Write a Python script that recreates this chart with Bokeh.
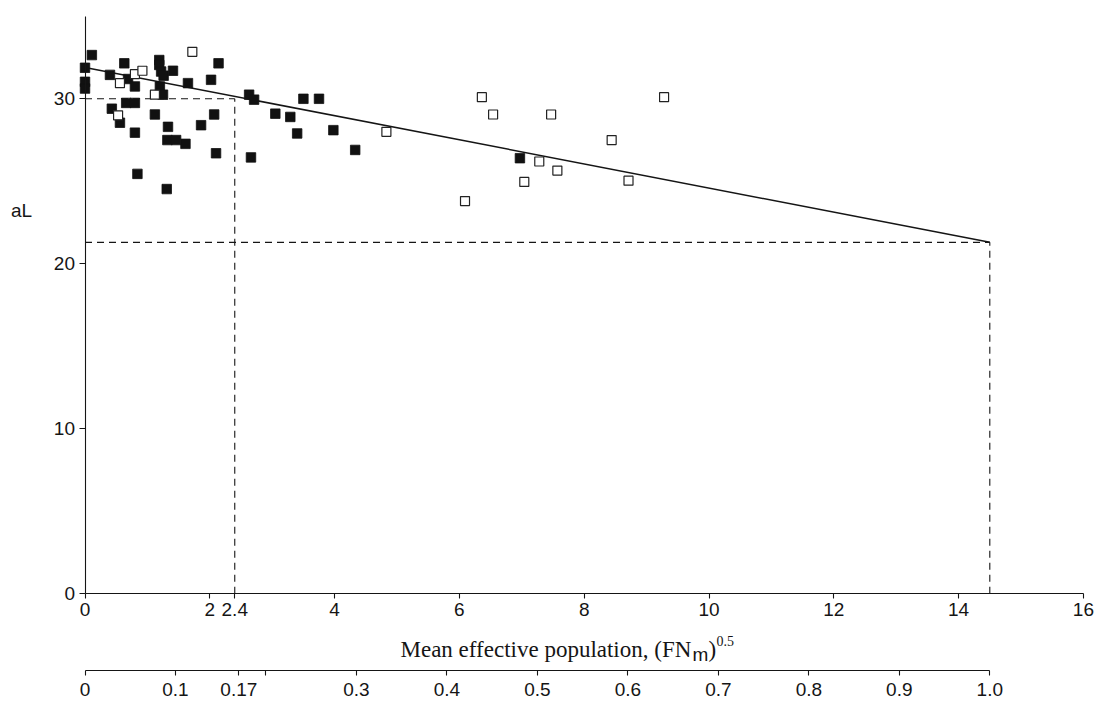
from bokeh.plotting import figure
from bokeh.models import LinearAxis, Range1d, FixedTicker, Label
from bokeh.embed import file_html
from bokeh.resources import INLINE

# ---------------- data ----------------
filled_x = [0.00, 0.00, 0.00, 0.11, 0.40, 0.63, 0.69, 0.80, 1.19, 1.19,
            1.22, 1.26, 1.41, 1.65, 2.02, 2.14, 1.20, 1.25, 2.63, 2.71,
            0.43, 0.56, 0.66, 0.80, 0.80, 1.12, 1.33, 1.32, 1.46, 1.61,
            1.86, 2.07, 2.10, 2.66, 0.84, 1.31, 3.05, 3.29, 3.40, 3.50,
            3.75, 3.98, 4.33, 6.97]
filled_y = [31.88, 31.03, 30.62, 32.65, 31.45, 32.15, 31.20, 30.75, 32.35, 32.05,
            31.65, 31.40, 31.70, 30.95, 31.15, 32.15, 30.75, 30.25, 30.25, 29.95,
            29.40, 28.55, 29.75, 29.75, 27.95, 29.05, 28.30, 27.50, 27.50, 27.27,
            28.40, 29.05, 26.70, 26.45, 25.45, 24.53, 29.10, 28.90, 27.90, 30.00,
            30.00, 28.10, 26.90, 26.40]

open_x = [0.56, 0.80, 0.92, 1.72, 1.12, 0.53, 4.83, 6.36, 6.54, 7.47,
          9.28, 8.44, 7.28, 7.57, 7.04, 8.71, 6.09]
open_y = [30.95, 31.50, 31.70, 32.85, 30.25, 29.00, 28.00, 30.10, 29.05, 29.05,
          30.10, 27.50, 26.20, 25.65, 24.96, 25.04, 23.80]

fit_x = [0.0, 14.5]
fit_y = [31.9, 21.3]

ref_x = 2.4      # (FNm)^0.5 where aL = 30
ref_y = 30.0
end_x = 14.5     # end of regression line
end_y = 21.3

x_ticks = [0, 2, 2.4, 4, 6, 8, 10, 12, 14, 16]
x_tick_labels = ["0", "2", "2.4", "4", "6", "8", "10", "12", "14", "16"]
y_ticks = [0, 10, 20, 30]
y_tick_labels = ["0", "10", "20", "30"]
frac_ticks = [0, 0.1, 0.17, 0.2, 0.3, 0.4, 0.5, 0.6, 0.7, 0.8, 0.9, 1.0]
frac_tick_labels = ["0", "0.1", "0.17", "", "0.3", "0.4", "0.5", "0.6", "0.7", "0.8", "0.9", "1.0"]
frac_full = 14.5   # x value that corresponds to 1.0 on the lower scale

x_axis_max = 16
y_axis_max = 35.0

y_title = "aL"
x_title_main = "Mean effective population, (FN"
x_title_sub = "m"
x_title_close = ")"
x_title_sup = "0.5"

# ---------------- layout (canvas px) ----------------
W, H = 1094, 705
X0, SX = 84.5, 62.4     # canvas px of x=0, px per unit
Y0, SY = 593.3, 16.5    # canvas px (from top) of y=0, px per unit

xs, xe = -X0 / SX, (W - X0) / SX
ys, ye = (Y0 - H) / SY, Y0 / SY

p = figure(width=W, height=H, output_backend="svg", toolbar_location=None,
           x_range=Range1d(xs, xe), y_range=Range1d(ys, ye),
           x_axis_location=None, y_axis_location=None,
           min_border=0, min_border_left=0, min_border_right=0,
           min_border_top=0, min_border_bottom=0)
p.outline_line_color = None
p.grid.grid_line_color = None
p.background_fill_color = "white"
p.border_fill_color = "white"
p.extra_x_ranges = {"frac": Range1d(xs / frac_full, xe / frac_full)}

INK = "#151515"
TICK_FONT = "Liberation Sans"
TICK_SIZE = "19px"


def style(ax, tick_out, standoff):
    ax.axis_line_color = INK
    ax.axis_line_width = 1.1
    ax.major_tick_line_color = INK
    ax.major_tick_line_width = 1.1
    ax.major_tick_in = 0
    ax.major_tick_out = tick_out
    ax.minor_tick_line_color = None
    ax.major_label_text_font = TICK_FONT
    ax.major_label_text_font_size = TICK_SIZE
    ax.major_label_text_color = INK
    ax.major_label_standoff = standoff


yax = LinearAxis(fixed_location=0, bounds=(0, y_axis_max),
                 ticker=FixedTicker(ticks=y_ticks),
                 major_label_overrides={t: s for t, s in zip(y_ticks, y_tick_labels)})
style(yax, 6, 4)
p.add_layout(yax, "left")

xax = LinearAxis(fixed_location=0, bounds=(0, x_axis_max),
                 ticker=FixedTicker(ticks=x_ticks),
                 major_label_overrides={t: s for t, s in zip(x_ticks, x_tick_labels)})
style(xax, 5, 4)
p.add_layout(xax, "below")

frac_y = (Y0 - 670) / SY
fax = LinearAxis(x_range_name="frac", fixed_location=frac_y, bounds=(0, 1.0),
                 ticker=FixedTicker(ticks=frac_ticks),
                 major_label_overrides={t: s for t, s in zip(frac_ticks, frac_tick_labels)})
style(fax, 5, 7)
p.add_layout(fax, "below")

# ---------------- reference lines ----------------
DASH = "7 5"
p.line([0, ref_x], [ref_y, ref_y], line_color=INK, line_width=1.1, line_dash=DASH)
p.line([ref_x, ref_x], [0, ref_y], line_color=INK, line_width=1.1, line_dash=DASH)
p.line([0, end_x], [end_y, end_y], line_color=INK, line_width=1.1, line_dash=DASH)
p.line([end_x, end_x], [0, end_y], line_color=INK, line_width=1.1, line_dash=DASH)

# regression line
p.line(fit_x, fit_y, line_color=INK, line_width=1.5)

# ---------------- points ----------------
p.scatter(filled_x, filled_y, marker="square", size=9.5,
          fill_color="#111111", line_color="#111111", line_width=0.8)
p.scatter(open_x, open_y, marker="square", size=9,
          fill_color="white", line_color="#222222", line_width=1.2)

# ---------------- titles ----------------
p.add_layout(Label(x=(21 - X0) / SX, y=(Y0 - 210) / SY, text=y_title,
                   text_font="Liberation Sans", text_font_size="19px",
                   text_color=INK, text_align="center", text_baseline="middle"))

tx = (400 - X0) / SX
ty = (Y0 - 649) / SY
serif = dict(text_font="Liberation Serif", text_color=INK,
             text_align="left", text_baseline="alphabetic")
p.add_layout(Label(x=tx, y=ty, text=x_title_main, text_font_size="23px", **serif))
p.add_layout(Label(x=tx, y=ty, x_offset=292, y_offset=-5, text=x_title_sub,
                   text_font="Liberation Sans", text_font_size="19px", text_color=INK,
                   text_align="left", text_baseline="alphabetic"))
p.add_layout(Label(x=tx, y=ty, x_offset=308, text=x_title_close,
                   text_font_size="23px", **serif))
p.add_layout(Label(x=tx, y=ty, x_offset=316, y_offset=9, text=x_title_sup,
                   text_font_size="14px", **serif))

open("out.html", "w").write(file_html(p, INLINE))
